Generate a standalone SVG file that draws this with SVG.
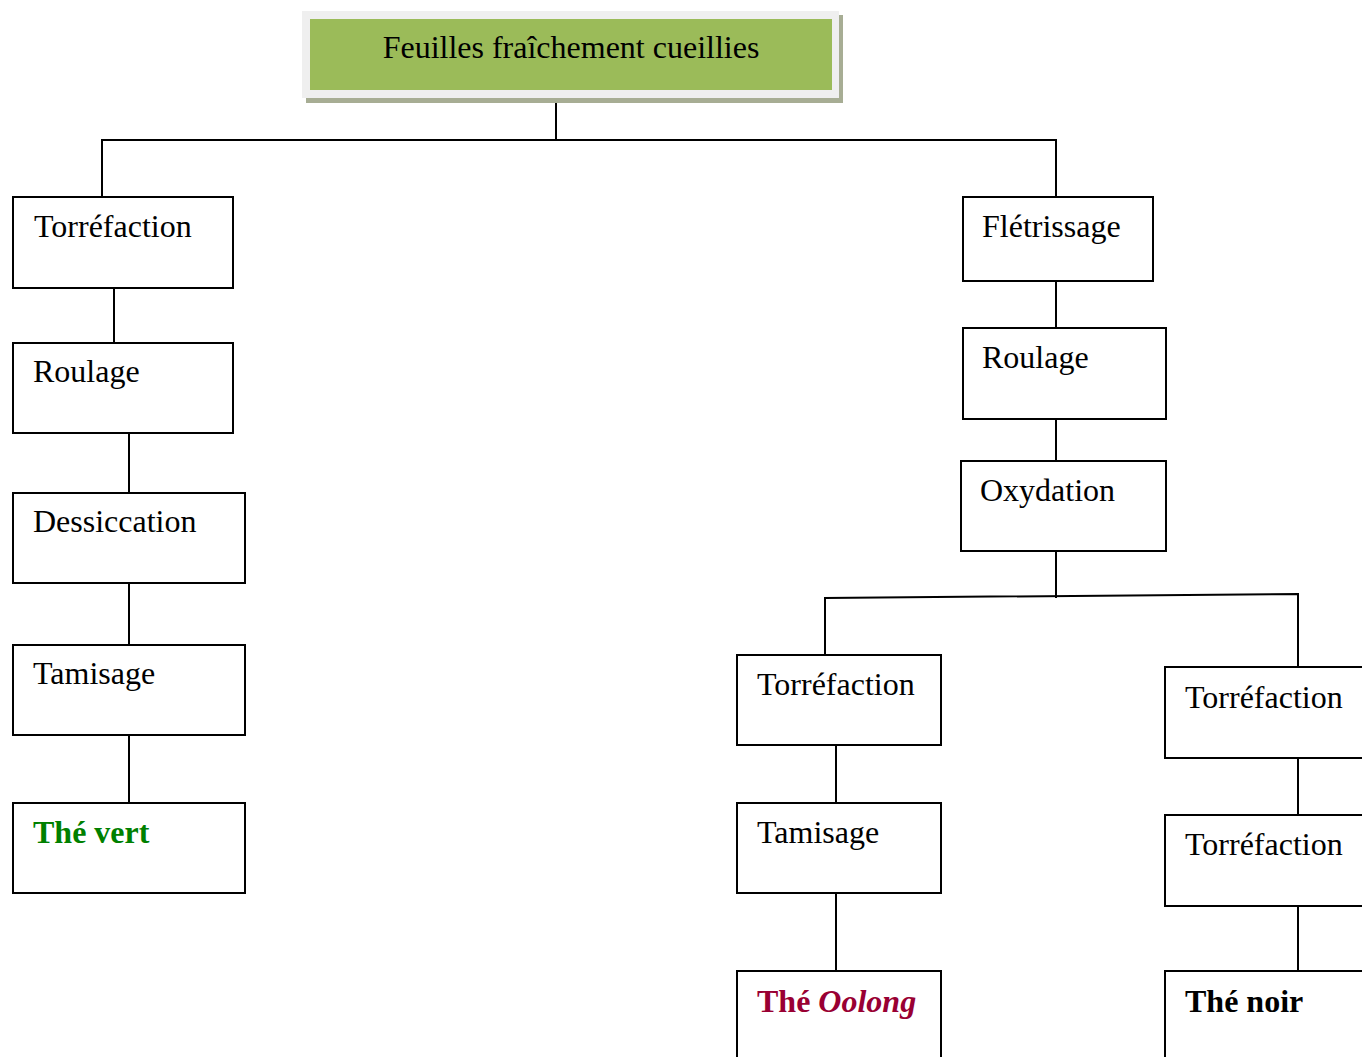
<svg xmlns="http://www.w3.org/2000/svg" width="1362" height="1057" viewBox="0 0 1362 1057">
<style>
.box{fill:#fff;stroke:#000;stroke-width:2}
.t{font-family:"Liberation Serif","Times New Roman",serif;font-size:32px;fill:#000}
.b{font-weight:bold}
.c{fill:none;stroke:#000;stroke-width:2}
</style>
<rect x="0" y="0" width="1362" height="1057" fill="#fff"/>
<g id="connectors">
<path class="c" d="M556,95 V140 M102,197 V140 H1056 V197"/>
<path class="c" d="M114,288 V343 M129,433 V493 M129,583 V645 M129,735 V803"/>
<path class="c" d="M1056,281 V328 M1056,419 V461 M1056,551 V598"/>
<path class="c" d="M825,655 V598 L1298,594 V667"/>
<path class="c" d="M836,745 V803 M836,893 V971 M1298,758 V815 M1298,906 V971"/>
</g>
<g id="n0">
<rect x="306" y="15" width="537" height="88" fill="#a7ad94"/>
<rect x="302" y="11" width="537" height="87" fill="#efefef"/>
<rect x="310" y="19" width="522" height="71" fill="#9bbb59"/>
<text class="t" x="571" y="58" text-anchor="middle">Feuilles fraîchement cueillies</text>
</g>
<g id="n1"><rect class="box" x="13" y="197" width="220" height="91"/><text class="t" x="34" y="237">Torréfaction</text></g>
<g id="n2"><rect class="box" x="13" y="343" width="220" height="90"/><text class="t" x="33" y="382">Roulage</text></g>
<g id="n3"><rect class="box" x="13" y="493" width="232" height="90"/><text class="t" x="33" y="532">Dessiccation</text></g>
<g id="n4"><rect class="box" x="13" y="645" width="232" height="90"/><text class="t" x="33" y="684">Tamisage</text></g>
<g id="n5"><rect class="box" x="13" y="803" width="232" height="90"/><text class="t b" x="33" y="843" style="fill:#008000">Thé vert</text></g>
<g id="n6"><rect class="box" x="963" y="197" width="190" height="84"/><text class="t" x="982" y="237">Flétrissage</text></g>
<g id="n7"><rect class="box" x="963" y="328" width="203" height="91"/><text class="t" x="982" y="368">Roulage</text></g>
<g id="n8"><rect class="box" x="961" y="461" width="205" height="90"/><text class="t" x="980" y="501">Oxydation</text></g>
<g id="n9"><rect class="box" x="737" y="655" width="204" height="90"/><text class="t" x="757" y="695">Torréfaction</text></g>
<g id="n10"><rect class="box" x="737" y="803" width="204" height="90"/><text class="t" x="757" y="843">Tamisage</text></g>
<g id="n11"><rect class="box" x="737" y="971" width="204" height="100"/><text class="t b" x="757" y="1012" style="fill:#990033">Thé <tspan font-style="italic">Oolong</tspan></text></g>
<g id="n12"><rect class="box" x="1165" y="667" width="210" height="91"/><text class="t" x="1185" y="708">Torréfaction</text></g>
<g id="n13"><rect class="box" x="1165" y="815" width="210" height="91"/><text class="t" x="1185" y="855">Torréfaction</text></g>
<g id="n14"><rect class="box" x="1165" y="971" width="210" height="100"/><text class="t b" x="1185" y="1012">Thé noir</text></g>
</svg>
